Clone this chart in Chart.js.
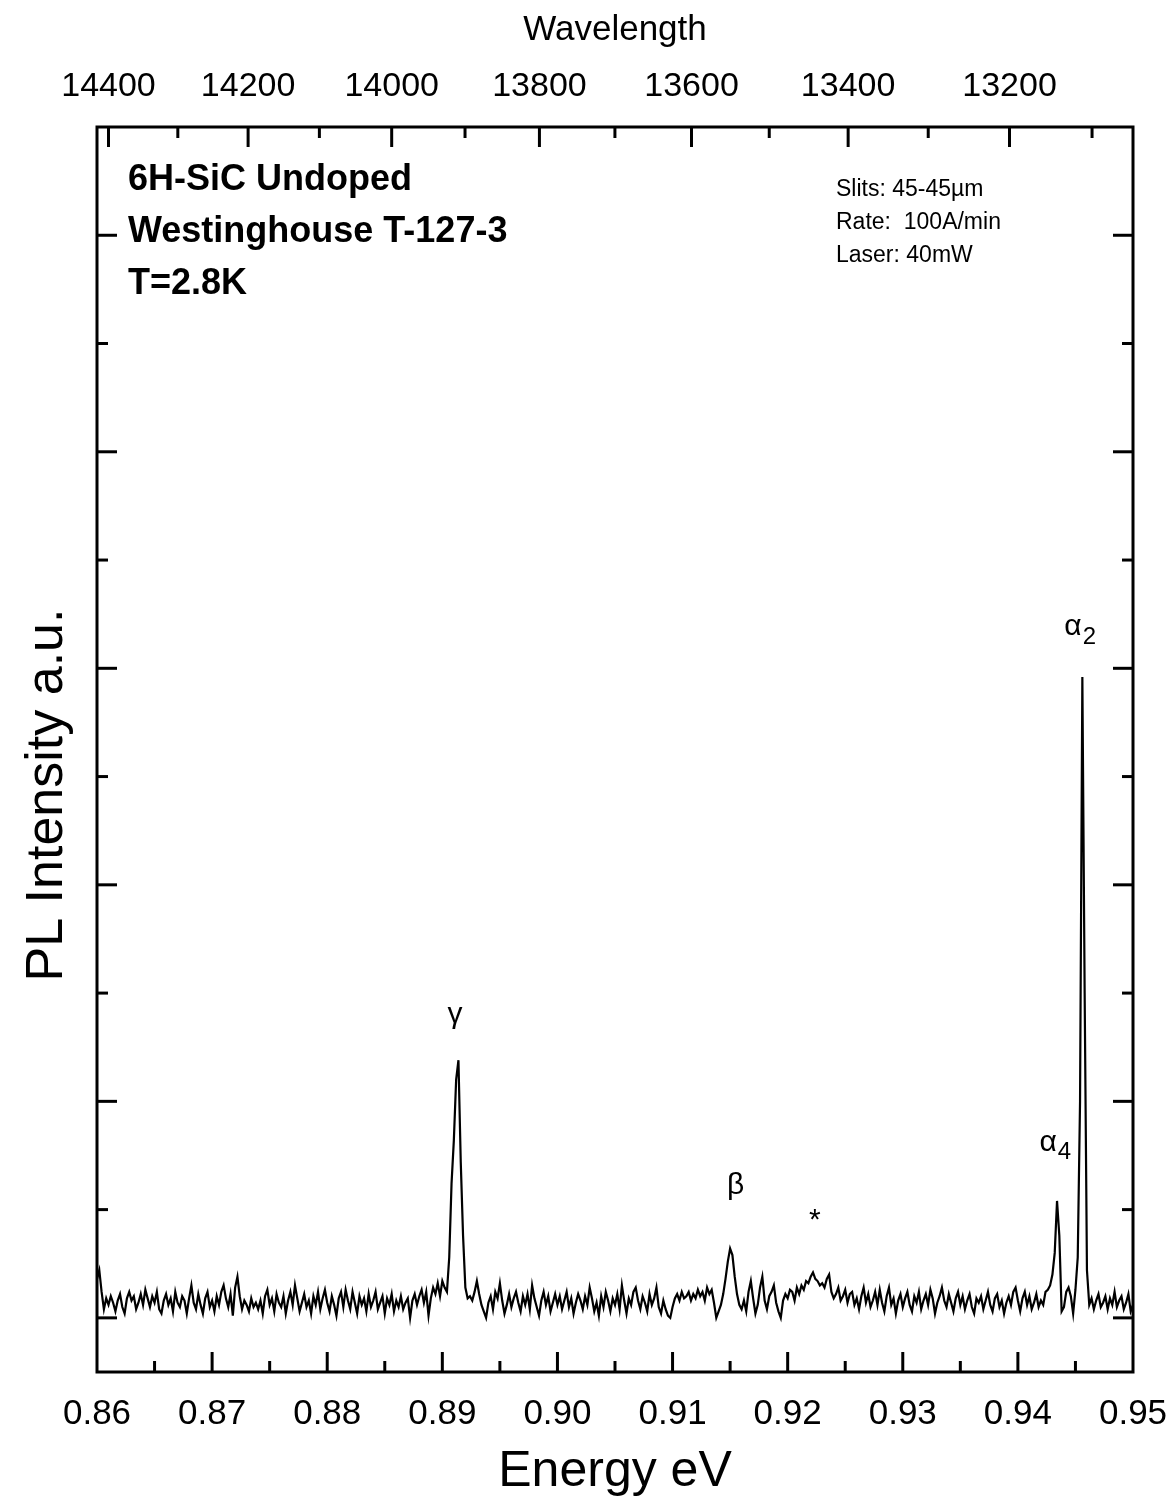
<!DOCTYPE html>
<html>
<head>
<meta charset="utf-8">
<script src="https://cdn.jsdelivr.net/npm/chart.js@4.4.1/dist/chart.umd.min.js"></script>
<style>
  html, body { margin: 0; padding: 0; background: #fff; }
  #wrap { width: 1174px; height: 1500px; }
</style>
</head>
<body>
<div id="wrap"><canvas id="plChart" width="1174" height="1500"></canvas></div>
<script>
// energy grid of the scan (eV)
const energyStart = 0.86;
const energyStep = 0.0002;

// PL intensity, one value per grid step (100 = one major tick)
const intensity = [
  18, 22, 12, 4, 9, 6, 10, 7, 3, 8,
  11, 5, 2, 9, 12, 8, 10, 4, 7, 11,
  6, 13, 9, 5, 10, 7, 12, 4, 2, 8,
  11, 6, 9, 3, 12, 7, 5, 10, 8, 2,
  9, 15, 7, 4, 11, 6, 2, 9, 12, 5,
  8, 3, 10, 6, 12, 15, 9, 5, 11, 1,
  14, 19, 10, 4, 8, 6, 3, 9, 5, 7,
  4, 8, 2, 10, 13, 6, 9, 3, 11, 7,
  5, 10, 2, 8, 12, 6, 15, 9, 3, 7,
  11, 5, 8, 2, 10, 6, 12, 4, 9, 13,
  7, 3, 10, 6, 1, 9, 12, 5, 13, 8,
  4, 12, 7, 2, 10, 6, 9, 3, 11, 5,
  8, 12, 4, 7, 10, 2, 9, 6, 11, 3,
  8, 5, 10, 4, 7, 9, 0, 8, 11, 6,
  10, 13, 7, 12, 1, 9, 14, 11, 16, 10,
  17, 14, 12, 28, 62, 82, 110, 119, 72, 38,
  14, 9, 10, 8, 12, 17, 11, 6, 3, 0,
  7, 10, 4, 12, 9, 16, 8, 2, 6, 11,
  5, 9, 12, 7, 3, 10, 6, 11, 4, 15,
  9, 5, 1, 8, 12, 6, 10, 3, 7, 11,
  6, 10, 4, 8, 12, 5, 9, 2, 7, 11,
  8, 4, 10, 6, 14, 9, 3, 7, 1, 10,
  5, 12, 8, 3, 9, 6, 11, 4, 15, 8,
  2, 9, 6, 12, 14, 8, 4, 10, 7, 3,
  11, 6, 9, 14, 5, 2, 8, 4, 1, 0,
  5, 9, 11, 8, 12, 9, 10, 12, 8, 11,
  9, 13, 10, 12, 8, 14, 11, 13, 7, 0,
  3, 6, 11, 18, 26, 32, 29, 19, 11, 6,
  4, 8, 3, 12, 17, 9, 2, 6, 14, 19,
  8, 4, 10, 12, 15, 7, 3, 0, 8, 11,
  9, 13, 12, 8, 14, 11, 15, 13, 17, 16,
  19, 21, 18, 17, 15, 16, 14, 18, 20, 12,
  9, 11, 14, 8, 10, 13, 7, 11, 12, 6,
  9, 4, 10, 14, 7, 11, 5, 8, 12, 6,
  13, 7, 3, 10, 14, 6, 9, 2, 8, 11,
  5, 9, 12, 6, 3, 10, 7, 12, 4, 8,
  11, 6, 13, 9, 2, 7, 10, 14, 8, 5,
  11, 7, 3, 9, 12, 6, 10, 4, 8, 11,
  5, 2, 9, 7, 10, 4, 8, 12, 6, 3,
  9, 11, 5, 8, 2, 7, 10, 6, 12, 14,
  8, 3, 9, 12, 6, 10, 4, 7, 11, 5,
  8, 6, 12, 13, 15, 20, 30, 54, 38, 3,
  5, 12, 14, 10, 2, 13, 28, 100, 296, 150,
  22, 6, 9, 4, 8, 11, 5, 7, 10, 4,
  9, 6, 12, 5, 8, 10, 4, 7, 11, 3, 6
];

// top axis wavelength ticks (Angstrom); labelled every 200
const wavelengthTicks = [14400, 14300, 14200, 14100, 14000, 13900, 13800, 13700, 13600, 13500, 13400, 13300, 13200, 13100];
const HC = 12398.4; // eV*Angstrom

// peak labels: [text, subscript, energy, intensity]
const peakLabels = [
  ['\u03B3', '', 0.8911, 140],
  ['\u03B2', '', 0.91547, 61],
  ['*', '', 0.92237, 45],
  ['\u03B1', '4', 0.94262, 81],
  ['\u03B1', '2', 0.94479, 319]
];

const sampleInfo = ['6H-SiC Undoped', 'Westinghouse T-127-3', 'T=2.8K'];
const runInfo = ['Slits: 45-45\u00B5m', 'Rate:  100A/min', 'Laser: 40mW'];

const FONT = "'Liberation Sans', Arial, Helvetica, sans-serif";
Chart.defaults.font.family = FONT;
Chart.defaults.color = '#000';

const points = intensity.map((v, i) => ({ x: energyStart + i * energyStep, y: v }));

function isMajor(v, per) {
  return Math.abs(v * per - Math.round(v * per)) < 1e-6;
}

const framePlugin = {
  id: 'framePlugin',
  afterDraw(chart) {
    const { ctx, chartArea: a, scales } = chart;
    const line = (x1, y1, x2, y2) => { ctx.beginPath(); ctx.moveTo(x1, y1); ctx.lineTo(x2, y2); ctx.stroke(); };
    ctx.save();
    ctx.strokeStyle = '#000';
    ctx.lineWidth = 3;
    ctx.strokeRect(a.left, a.top, a.right - a.left, a.bottom - a.top);

    // bottom ticks (inward)
    scales.x.ticks.forEach(t => {
      const px = scales.x.getPixelForValue(t.value);
      if (px <= a.left + 1 || px >= a.right - 1) return;
      line(px, a.bottom, px, a.bottom - (isMajor(t.value, 100) ? 20 : 11));
    });
    // top ticks (inward), wavelength axis
    scales.xTop.ticks.forEach((t, i) => {
      const px = scales.xTop.getPixelForValue(t.value);
      line(px, a.top, px, a.top + (wavelengthTicks[i] % 200 === 0 ? 20 : 11));
    });
    // left and right ticks
    scales.y.ticks.forEach(t => {
      if (t.value < 0 || t.value >= 550 || t.value % 50 !== 0) return;
      const py = scales.y.getPixelForValue(t.value);
      const len = t.value % 100 === 0 ? 20 : 11;
      line(a.left, py, a.left + len, py);
      line(a.right, py, a.right - len, py);
    });

    // y title
    ctx.fillStyle = '#000';
    ctx.save();
    ctx.translate(62, 795);
    ctx.rotate(-Math.PI / 2);
    ctx.font = '52px ' + FONT;
    ctx.textAlign = 'center';
    ctx.textBaseline = 'alphabetic';
    ctx.fillText('PL Intensity a.u.', 0, 0);
    ctx.restore();

    // sample info
    ctx.font = 'bold 36px ' + FONT;
    ctx.textAlign = 'left';
    ctx.textBaseline = 'alphabetic';
    sampleInfo.forEach((s, i) => ctx.fillText(s, 128, 190 + i * 52));

    // run info
    ctx.font = '23px ' + FONT;
    runInfo.forEach((s, i) => ctx.fillText(s, 836, 196 + i * 33));

    // peak labels
    peakLabels.forEach(([txt, sub, e, v]) => {
      const px = scales.x.getPixelForValue(e);
      const py = scales.y.getPixelForValue(v);
      ctx.font = '30px ' + FONT;
      ctx.textAlign = 'center';
      ctx.textBaseline = 'middle';
      ctx.fillText(txt, px, py);
      if (sub) {
        const w = ctx.measureText(txt).width;
        ctx.font = '24px ' + FONT;
        ctx.textAlign = 'left';
        ctx.fillText(sub, px + w / 2 + 1, py + 10);
      }
    });
    ctx.restore();
  }
};

// let the layout padding alone decide the side margins
const noSidePadding = s => { s.paddingLeft = 0; s.paddingRight = 0; };

new Chart(document.getElementById('plChart').getContext('2d'), {
  type: 'line',
  data: {
    datasets: [{
      data: points,
      borderColor: '#000',
      borderWidth: 2.2,
      pointRadius: 0,
      tension: 0,
      fill: false
    }]
  },
  options: {
    responsive: false,
    animation: false,
    layout: { padding: { left: 0, right: 41, top: 0, bottom: 0 } },
    plugins: { legend: { display: false }, tooltip: { enabled: false } },
    scales: {
      x: {
        type: 'linear',
        position: 'bottom',
        min: 0.86,
        max: 0.95,
        grid: { display: false },
        border: { display: false },
        ticks: {
          stepSize: 0.005,
          autoSkip: false,
          maxRotation: 0,
          padding: 13,
          font: { size: 35 },
          callback: v => isMajor(v, 100) ? v.toFixed(2) : ''
        },
        title: { display: true, text: 'Energy eV', font: { size: 50, lineHeight: 1.1 }, padding: 0 },
        afterFit: s => { s.height = 128; noSidePadding(s); }
      },
      xTop: {
        type: 'linear',
        position: 'top',
        min: 0.86,
        max: 0.95,
        grid: { display: false },
        border: { display: false },
        afterBuildTicks: s => { s.ticks = wavelengthTicks.map(w => ({ value: HC / w })); },
        ticks: {
          autoSkip: false,
          maxRotation: 0,
          padding: 12,
          font: { size: 34 },
          callback: (v, i) => wavelengthTicks[i] % 200 === 0 ? String(wavelengthTicks[i]) : ''
        },
        title: { display: true, text: 'Wavelength', font: { size: 35 }, padding: { top: 9, bottom: 0 } },
        afterFit: s => { s.height = 127; noSidePadding(s); }
      },
      y: {
        type: 'linear',
        min: -25,
        max: 550,
        grid: { display: false },
        border: { display: false },
        ticks: { display: false, stepSize: 50 },
        afterFit: s => { s.width = 97; }
      }
    }
  },
  plugins: [framePlugin]
});
</script>
</body>
</html>
